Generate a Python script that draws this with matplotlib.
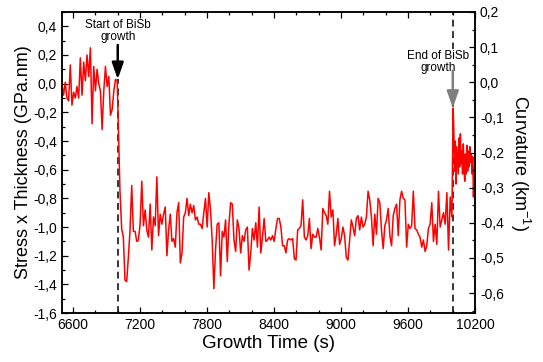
import numpy as np
import matplotlib
matplotlib.use("Agg")
from matplotlib import pyplot as plt
from matplotlib.ticker import MultipleLocator, FuncFormatter

plt.rcParams['font.family'] = ['Liberation Sans', 'DejaVu Sans']

# stress x thickness (GPa.nm)
pre_growth = [0.0, -0.08, 0.01, -0.1, -0.12, 0.13, -0.15, -0.06, -0.1, -0.02,
              -0.1, 0.18, -0.08, 0.15, 0.02, 0.2, 0.05, 0.25, -0.28, 0.12,
              -0.05, 0.1, 0.0, -0.05, -0.32, -0.05, 0.12, -0.02, 0.05, -0.22,
              -0.18, -0.05, 0.03, 0.02]
growth = [-0.75, -1.01, -1.07, -1.37, -1.38, -1.21, -1.02, -0.71, -1.03, -1.03,
          -1.10, -1.09, -0.98, -0.68, -0.99, -0.88, -1.02, -1.07, -0.84, -1.16,
          -0.93, -0.99, -0.65, -1.06, -0.91, -0.98, -0.91, -0.86, -1.20, -1.02,
          -0.91, -1.10, -1.08, -1.14, -0.90, -0.83, -1.25, -1.18, -0.93, -0.90,
          -0.80, -0.92, -0.84,
          -0.90, -0.85, -0.95, -0.93, -0.98, -0.98, -1.01, -0.90, -0.80, -1.00,
          -0.76, -0.88, -1.09, -1.43, -1.16, -0.98, -0.97, -1.34, -1.03, -1.07,
          -0.95, -1.24, -0.98, -0.83, -0.84, -1.09, -1.17, -0.95, -1.01, -1.18,
          -1.06, -1.10, -1.02, -1.00, -1.30, -1.18, -1.01, -1.09, -0.97, -1.14,
          -0.86,
          -1.18, -1.07, -0.94, -1.10, -1.09, -1.07, -1.09, -1.06, -1.10, -1.01,
          -0.94, -0.94, -1.00, -1.13, -1.13, -1.18, -1.09, -1.08, -1.09, -1.08,
          -1.22, -1.23, -1.02, -1.01, -0.99, -0.81, -1.07, -1.09, -1.06, -0.94,
          -1.15, -1.05, -1.07, -1.07, -1.01, -1.07, -1.16, -0.87, -0.90, -0.92,
          -0.98, -0.75,
          -0.93, -0.88, -1.13, -1.05, -0.94, -1.12, -1.08, -1.00, -1.06, -1.21,
          -1.23, -1.09, -0.95, -1.00, -1.06, -0.94, -0.92, -1.02, -0.93, -1.00,
          -0.98, -0.93, -0.75, -0.81, -0.93, -1.13, -0.91, -1.05, -0.80, -0.83,
          -1.02, -1.15, -0.99, -0.95, -0.87, -1.06, -1.13, -0.92, -0.87, -0.84,
          -1.06, -0.81,
          -0.75, -0.80, -0.81, -1.14, -0.98, -1.01, -0.99, -0.75, -1.01, -1.02,
          -1.05, -1.07, -1.14, -1.09, -1.17, -1.13, -1.01, -0.98, -0.83, -1.10,
          -0.98, -1.12, -0.75, -1.00, -0.95, -0.90, -0.98, -0.76, -1.16, -0.79,
          -0.93]
post_growth = [-0.17, -0.33, -0.61, -0.40, -0.70, -0.44, -0.54, -0.63, -0.38, -0.58,
               -0.35, -0.56, -0.47, -0.63, -0.42, -0.58, -0.68, -0.49, -0.63, -0.43,
               -0.61, -0.47, -0.58, -0.44, -0.55, -0.49, -0.63, -0.51, -0.79, -0.58,
               -0.68]

t_pre = np.arange(6500, 7000, 15)
t_growth = np.linspace(7020, 9992, len(growth))
t_post = np.linspace(10003, 10198, len(post_growth))

t = np.concatenate([t_pre, t_growth, t_post])
stress = np.concatenate([pre_growth, growth, post_growth])

start_t, end_t = 7000, 10000


def comma(v, pos):
    s = f"{v:.1f}"
    if s == "-0.0":
        s = "0.0"
    return s.replace(".", ",")


fig = plt.figure(figsize=(5.43, 3.62), dpi=100)
ax = fig.add_axes([0.114, 0.135, 0.761, 0.832])

ax.plot(t, stress, color="#ff0000", lw=1.1, zorder=3)
# start line stops at the arrow tip, end line runs full height
ax.plot([start_t, start_t], [-1.6, 0.03], color="black", lw=1.1,
        ls=(0, (4.5, 3)), zorder=2)
ax.axvline(end_t, color="black", lw=1.1, ls=(0, (4.5, 3)), zorder=2)

ax.set_xlim(6500, 10200)
ax.set_ylim(-1.6, 0.5)
ax.xaxis.set_minor_locator(MultipleLocator(200))
ax.yaxis.set_major_locator(MultipleLocator(0.2))
ax.yaxis.set_minor_locator(MultipleLocator(0.1))
ax.yaxis.set_major_formatter(FuncFormatter(comma))
ax.set_xticks(np.arange(6600, 10201, 600))
ax.tick_params(which="both", direction="in", top=True, right=False,
               labelsize=10, width=0.9)
ax.tick_params(which="major", length=4.5)
ax.tick_params(which="minor", length=2.5)
ax.set_xlabel("Growth Time (s)", fontsize=13.5, labelpad=2)
ax.set_ylabel("Stress x Thickness (GPa.nm)", fontsize=13, labelpad=1)

ax2 = ax.twinx()
ax2.set_ylim(-0.657, 0.2)
ax2.yaxis.set_major_locator(MultipleLocator(0.1))
ax2.yaxis.set_minor_locator(MultipleLocator(0.05))
ax2.yaxis.set_major_formatter(FuncFormatter(comma))
ax2.tick_params(which="both", direction="in", labelsize=10, width=0.9)
ax2.tick_params(which="major", length=4.5)
ax2.tick_params(which="minor", length=2.5)
ax2.set_ylabel("Curvature (km$^{\\mathregular{-1}}$)", fontsize=13,
               rotation=270, labelpad=20)

for a in (ax, ax2):
    for sp in a.spines.values():
        sp.set_linewidth(1.1)

arrow = "-|>,head_length=1.0,head_width=0.35"
ax.text(start_t, 0.45, "Start of BiSb\ngrowth", ha="center", va="top",
        fontsize=8.5, linespacing=0.95, zorder=5)
ax.annotate("", xy=(start_t, 0.03), xytext=(start_t, 0.27),
            arrowprops=dict(arrowstyle=arrow, color="black", lw=1.8,
                            shrinkA=0, shrinkB=0), zorder=5)
ax.text(end_t - 130, 0.235, "End of BiSb\ngrowth", ha="center", va="top",
        fontsize=8.5, linespacing=0.95, zorder=5,
        bbox=dict(facecolor="white", edgecolor="none", pad=0.5))
ax.annotate("", xy=(end_t, -0.17), xytext=(end_t, 0.09),
            arrowprops=dict(arrowstyle=arrow, color="#808080", lw=1.8,
                            shrinkA=0, shrinkB=0), zorder=5)

fig.savefig("out.png", dpi=100)
